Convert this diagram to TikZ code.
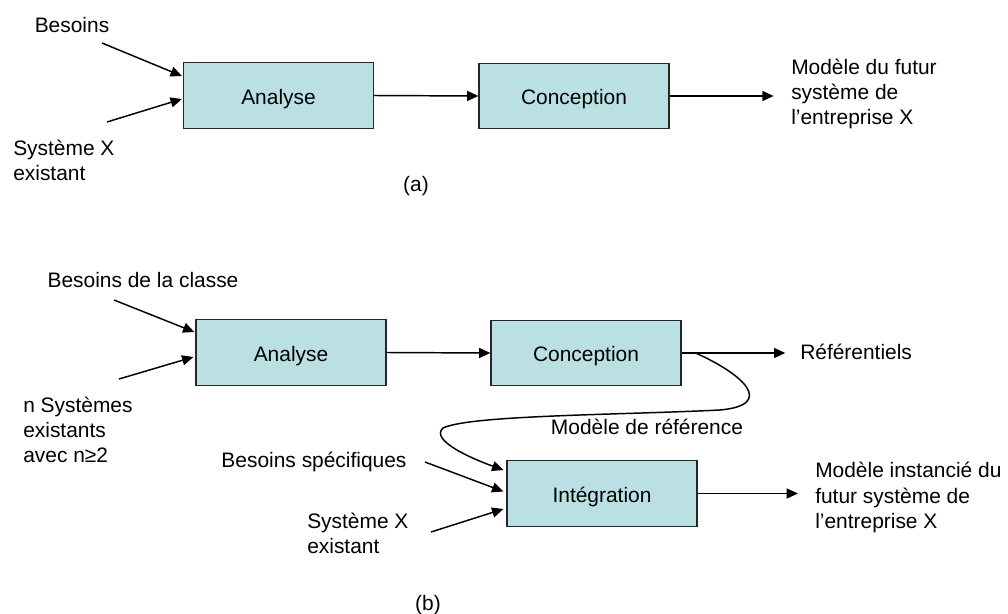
\documentclass[tikz,border=0pt]{standalone}
\usepackage{fontspec}
\setmainfont{Liberation Sans}
\usetikzlibrary{calc,arrows.meta}
\definecolor{boxfill}{RGB}{187,224,227}
\tikzset{
	etape/.style={draw=black!85, line width=0.9pt, fill=boxfill, minimum width=142.5pt, minimum height=49pt, inner sep=0pt, text height=14pt, text depth=0.6pt, font=\fontsize{15.7}{18.8}\selectfont},
	texte/.style={inner sep=0pt, align=left, font=\fontsize{15.7}{18.8}\selectfont},
	fleche/.style={line width=1.1pt, -{Triangle[length=8.5pt,width=7.5pt]}}
}

\begin{document}
\begin{tikzpicture}[x=0.75pt, y=-0.75pt]
		%%%%% START %%%%%
		\useasboundingbox (0, 0) rectangle (1008, 614);
		
		% (a)
		\node[etape] (analyseA) at (278.5, 95.5) {Analyse};
		\node[etape] (conceptionA) at (574, 96) {Conception};
		
		\node[texte] (besoinsA) at (72, 25) {Besoins};
		\node[texte, anchor=west] (systemeA) at (13, 160.5) {Système X\\existant};
		\node[texte, anchor=west] (sortieA) at (791, 94) {Modèle du futur\\système de\\l’entreprise X};
		\node[texte] (legendeA) at (416, 186) {(a)};
		
		\coordinate (besoinsA-q) at (102, 43);
		\coordinate (systemeA-q) at (107, 122);
		
		\draw[fleche] (besoinsA-q) -- ($(analyseA.west)+(-1, -19.5)$);
		\draw[fleche] (systemeA-q) -- ($(analyseA.west)+(-1, 3.5)$);
		\draw[fleche] (analyseA.east) -- (conceptionA.west);
		\draw[fleche, shorten >=13pt] (conceptionA.east) -- (conceptionA.east -| sortieA.west);
		
		% (b)
		\node[etape] (analyseB) at (291, 352.5) {Analyse};
		\node[etape] (conceptionB) at (586, 353) {Conception};
		\node[etape] (integration) at (602, 493.5) {Intégration};
		
		\node[texte] (besoinsB) at (143, 280) {Besoins de la classe};
		\node[texte, anchor=west] (systemesB) at (23, 429.5) {n Systèmes\\existants\\avec n≥2};
		\node[texte, anchor=west] (referentiels) at (800, 352) {Référentiels};
		\node[texte] (modeleRef) at (647, 427) {Modèle de référence};
		\node[texte] (besoinsS) at (314, 462) {Besoins spécifiques};
		\node[texte, anchor=west] (systemeB) at (307, 533.5) {Système X\\existant};
		\node[texte, anchor=west] (sortieB) at (815, 497.5) {Modèle instancié du\\futur système de\\l’entreprise X};
		\node[texte] (legendeB) at (428, 605) {(b)};
		
		\coordinate (besoinsB-q) at (114, 300);
		\coordinate (systemesB-q) at (119, 379);
		\coordinate (besoinsS-q) at (425, 462);
		\coordinate (systemeB-q) at (431, 532);
		
		\draw[fleche] (besoinsB-q) -- ($(analyseB.west)+(-1, -20.5)$);
		\draw[fleche] (systemesB-q) -- ($(analyseB.west)+(-2, 4.5)$);
		\draw[fleche] (analyseB.east) -- (conceptionB.west);
		\draw[fleche, shorten >=11pt] (conceptionB.east) -- (conceptionB.east -| referentiels.west);
		
		\draw[fleche] ($(conceptionB.east)+(14, 0)$) .. controls (745, 375) and (775, 405) .. (720, 410)
			.. controls (620, 415) and (470, 415) .. (443, 428)
			.. controls (430, 440) and (470, 458) .. ($(integration.west)+(-3, -23.5)$);
		
		\draw[fleche] (besoinsS-q) -- ($(integration.west)+(-3, -2)$);
		\draw[fleche] (systemeB-q) -- ($(integration.west)+(-3, 15.5)$);
		\draw[fleche, shorten >=12.75pt] (integration.east) -- (integration.east -| sortieB.west);
		
		%%%%% END %%%%%
	\end{tikzpicture}
\end{document}
